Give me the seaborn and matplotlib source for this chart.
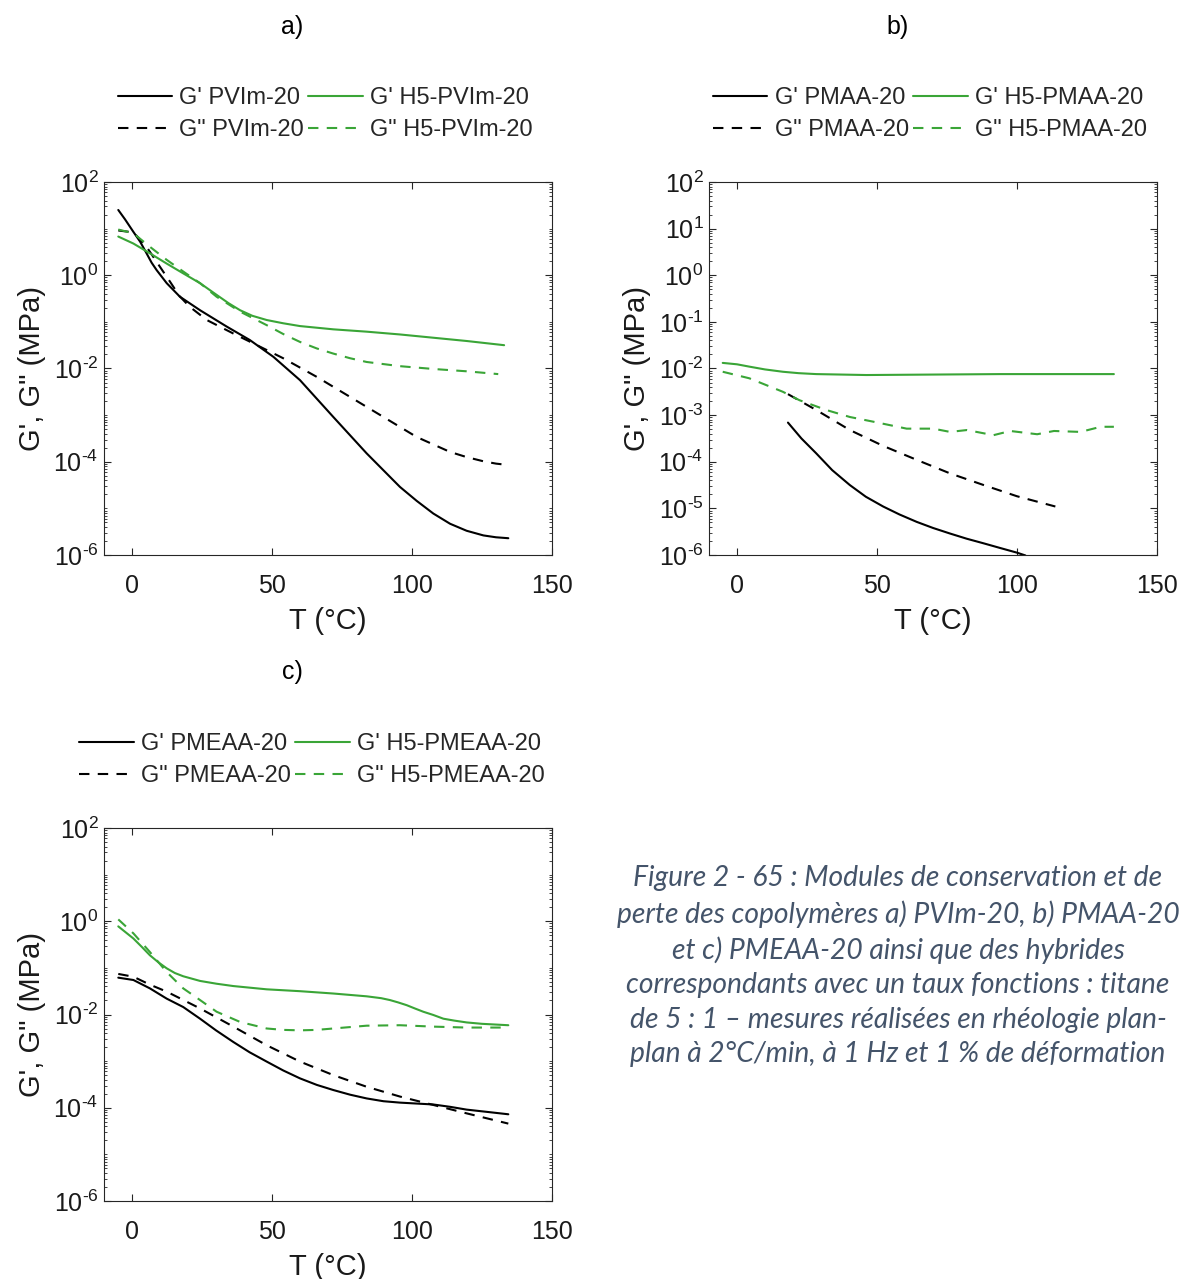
import numpy as np
import pandas as pd
import matplotlib
matplotlib.use("Agg")
import matplotlib.pyplot as plt
import seaborn as sns
from matplotlib.ticker import LogLocator, FixedLocator, NullFormatter

# ---------------- data (log10 of modulus in MPa) ----------------
# Panel a) PVIm-20
a_gp_T = [-4.9, -2.5, 0.5, 2.9, 5.2, 7.0, 8.8, 10.6, 12.4, 17.1, 24.3, 33.8, 42.1, 50.5, 60, 71.9,
          83.8, 95.7, 101.7, 107.6, 113.6, 119.5, 125.5, 130, 134.4]
a_gp_log = [1.4, 1.2, 0.93, 0.72, 0.47, 0.27, 0.11, -0.03, -0.17, -0.46, -0.75, -1.1, -1.39, -1.75,
            -2.25, -3.04, -3.82, -4.54, -4.84, -5.11, -5.33, -5.48, -5.58, -5.62, -5.64]
a_gs_T = [-4.9, 0.5, 5.2, 10, 13.6, 17.0, 20.7, 26.7, 36.2, 43.3, 54, 66, 77.9, 89.8, 101.7, 113.6, 119.5,
          125.5, 130, 134.4]
a_gs_log = [0.96, 0.92, 0.61, 0.18, -0.14, -0.45, -0.68, -0.96, -1.25, -1.46, -1.78, -2.18, -2.61, -3.04,
            -3.47, -3.79, -3.9, -3.99, -4.04, -4.07]
a_hgp_T = [-4.9, 0.5, 6.4, 12.4, 18.3, 24.3, 30.2, 34.5, 38.6, 43.0, 48.1, 54.0, 60, 71.9, 83.8, 95.7, 107.6,
           119.5, 132.9]
a_hgp_log = [0.83, 0.68, 0.47, 0.25, 0.04, -0.17, -0.42, -0.6, -0.75, -0.87, -0.96, -1.03, -1.09, -1.16,
             -1.21, -1.27, -1.34, -1.41, -1.5]
a_hgs_T = [-4.9, 0.5, 6.4, 12.4, 18.3, 24.3, 30.2, 38.6, 48.1, 54.0, 60, 66.0, 71.9, 77.9, 83.8, 95.7, 107.6,
           119.5, 130.8]
a_hgs_log = [0.98, 0.9, 0.61, 0.33, 0.08, -0.17, -0.46, -0.78, -1.07, -1.26, -1.43, -1.57, -1.68, -1.78,
             -1.86, -1.95, -2.01, -2.06, -2.12]

# Panel b) PMAA-20
b_gp_T = [18.2, 23.0, 28.3, 34.0, 40.3, 46.0, 52.2, 58.0, 64.2, 70.0, 76.1, 82.0, 88.1, 94.0, 100, 103]
b_gp_log = [-3.16, -3.5, -3.82, -4.18, -4.5, -4.75, -4.96, -5.13, -5.29, -5.42, -5.54, -5.65, -5.75, -5.85,
            -5.95, -6.01]
b_gs_T = [18.2, 28.3, 40.3, 52.2, 64.2, 76.1, 88.1, 100, 113.7]
b_gs_log = [-2.55, -2.89, -3.32, -3.66, -3.96, -4.25, -4.5, -4.74, -4.96]
b_hgp_T = [-5.1, 0.0, 4.4, 10.0, 16.4, 22.0, 28.3, 46.2, 70.1, 94, 117.9, 134.6]
b_hgp_log = [-1.88, -1.91, -1.96, -2.02, -2.07, -2.1, -2.12, -2.14, -2.13, -2.12, -2.12, -2.12]
b_hgs_T = [-5.1, 4.4, 16.4, 22.3, 31.9, 40.3, 48.6, 60.6, 70.1, 76.1, 82.1, 91.6, 97.6, 107.2, 113.2, 122.7,
           129.9, 134.6]
b_hgs_log = [-2.07, -2.21, -2.5, -2.68, -2.89, -3.04, -3.14, -3.29, -3.29, -3.36, -3.32, -3.43, -3.34, -3.41,
             -3.34, -3.36, -3.25, -3.25]

# Panel c) PMEAA-20
c_gp_T = [-4.9, 0.5, 6.4, 12.4, 18.3, 24.3, 30.0, 36.2, 42.0, 48.1, 54.0, 60, 66.0, 71.9, 77.9, 83.8, 89.8,
          95.7, 101.7, 107.6, 113.6, 119.5, 127.0, 134.4]
c_gp_log = [-1.21, -1.26, -1.44, -1.66, -1.84, -2.09, -2.34, -2.59, -2.81, -3.01, -3.2, -3.37, -3.51, -3.62,
            -3.72, -3.8, -3.86, -3.89, -3.91, -3.93, -3.98, -4.04, -4.09, -4.14]
c_gs_T = [-4.9, 0.5, 6.4, 12.4, 24.3, 36.2, 48.1, 60, 71.9, 83.8, 95.7, 107.6, 119.5, 134.4]
c_gs_log = [-1.13, -1.19, -1.36, -1.51, -1.87, -2.26, -2.66, -3.01, -3.3, -3.55, -3.76, -3.94, -4.12, -4.34]
c_hgp_T = [-4.9, 0.5, 3.5, 6.4, 9.4, 12.4, 15.3, 18.3, 24.3, 30.2, 36.2, 48.1, 60, 71.9, 83.8, 89.0, 92.1,
           95.0, 98.1, 101.0, 104, 107.6, 111.2, 115.0, 119.5, 125.0, 134.4]
c_hgp_log = [-0.11, -0.37, -0.55, -0.73, -0.88, -1.01, -1.11, -1.18, -1.28, -1.34, -1.39, -1.46, -1.5, -1.55,
             -1.61, -1.65, -1.69, -1.74, -1.8, -1.87, -1.94, -2.01, -2.09, -2.13, -2.17, -2.2, -2.23]
c_hgs_T = [-4.9, 0.5, 6.4, 12.4, 18.3, 24.3, 30.2, 38.6, 48.1, 54.0, 60, 66.0, 71.9, 83.8, 95.7, 107.6, 119.5,
           134.4]
c_hgs_log = [0.04, -0.26, -0.66, -1.09, -1.44, -1.69, -1.94, -2.16, -2.3, -2.33, -2.34, -2.33, -2.3, -2.24,
             -2.23, -2.26, -2.28, -2.28]

labels_a = ["G' PVIm-20", 'G" PVIm-20', "G' H5-PVIm-20", 'G" H5-PVIm-20']
labels_b = ["G' PMAA-20", 'G" PMAA-20', "G' H5-PMAA-20", 'G" H5-PMAA-20']
labels_c = ["G' PMEAA-20", 'G" PMEAA-20', "G' H5-PMEAA-20", 'G" H5-PMEAA-20']
panel_titles = ["a)", "b)", "c)"]
x_ticks = [0, 50, 100, 150]
caption = ("Figure 2 - 65 : Modules de conservation et de\n"
           "perte des copolymères a) PVIm-20, b) PMAA-20\n"
           "et c) PMEAA-20 ainsi que des hybrides\n"
           "correspondants avec un taux fonctions : titane\n"
           "de 5 : 1 – mesures réalisées en rhéologie plan-\n"
           "plan à 2°C/min, à 1 Hz et 1 % de déformation")

# ---------------- style ----------------
sns.set_style("ticks")
plt.rcParams['font.family'] = ['Liberation Sans', 'DejaVu Sans']
plt.rcParams['mathtext.fontset'] = 'custom'
plt.rcParams['mathtext.rm'] = 'Liberation Sans'
plt.rcParams['mathtext.it'] = 'Liberation Sans'
plt.rcParams['mathtext.default'] = 'regular'

AXC = '#262626'
TXT = '#1a1a1a'
BLACK = '#000000'
GREEN = '#3aa537'
LW = 1.5
DASH = (0, (5, 4))

W, H = 1181, 1279
fig = plt.figure(figsize=(W / 100, H / 100), dpi=100)


def px_axes(left, top, right, bottom):
    return fig.add_axes([left / W, 1 - bottom / H, (right - left) / W, (bottom - top) / H])


def exp_label(e):
    if e < 0:
        return r'$10^{\text{-}%d}$' % (-e)
    return r'$10^{%d}$' % e


def draw_panel(ax, series, labels, every_decade, leg_center_x):
    styles = [(BLACK, '-'), (BLACK, DASH), (GREEN, '-'), (GREEN, DASH)]
    for (T, lg), lab, (col, ls) in zip(series, labels, styles):
        df = pd.DataFrame({"T": T, "G": 10 ** np.array(lg)})
        sns.lineplot(data=df, x="T", y="G", ax=ax, color=col, linestyle=ls,
                     linewidth=LW, label=lab, estimator=None, sort=False)
    ax.set_yscale('log')
    ax.set_xlim(-10, 150)
    ax.set_ylim(1e-6, 1e2)
    ax.set_xticks(x_ticks)
    ax.set_xticklabels([str(t) for t in x_ticks])
    step = 1 if every_decade else 2
    exps = list(range(-6, 3, step))
    ax.yaxis.set_major_locator(FixedLocator([10.0 ** e for e in exps]))
    ax.set_yticklabels([exp_label(e) for e in exps])
    ax.yaxis.set_minor_locator(LogLocator(base=10, subs=np.arange(1, 10), numticks=100))
    ax.yaxis.set_minor_formatter(NullFormatter())
    for s in ax.spines.values():
        s.set_visible(True)
        s.set_color(AXC)
        s.set_linewidth(0.8)
    ax.tick_params(axis='both', which='both', direction='in', top=True, right=True,
                   colors=AXC, labelcolor=TXT)
    ax.tick_params(axis='both', which='major', length=5, width=0.8, labelsize=18)
    ax.tick_params(axis='y', which='minor', length=2.5, width=0.6)
    ax.tick_params(axis='x', which='major', pad=14)
    ax.tick_params(axis='y', which='major', pad=4)
    ax.set_xlabel('T (°C)', fontsize=21, color=TXT)
    ax.set_ylabel('G\', G" (MPa)', fontsize=21, color=TXT)
    ax.xaxis.set_label_coords(0.5, -0.14)
    ax.yaxis.set_label_coords(-0.13, 0.5)
    h, l = ax.get_legend_handles_labels()
    bb = ax.get_position()
    ax.legend(h, l, ncol=2, frameon=False, fontsize=17, loc='lower center',
              bbox_to_anchor=((leg_center_x / W - bb.x0) / bb.width, 1.065),
              handlelength=2.3, handletextpad=0.3, columnspacing=0.2,
              labelspacing=0.42, borderpad=0.2)


ax_a = px_axes(104, 182, 552, 555)
ax_b = px_axes(709, 182, 1157, 555)
ax_c = px_axes(104, 828, 552, 1201)

draw_panel(ax_a, [(a_gp_T, a_gp_log), (a_gs_T, a_gs_log), (a_hgp_T, a_hgp_log), (a_hgs_T, a_hgs_log)],
           labels_a, False, 325)
draw_panel(ax_b, [(b_gp_T, b_gp_log), (b_gs_T, b_gs_log), (b_hgp_T, b_hgp_log), (b_hgs_T, b_hgs_log)],
           labels_b, True, 930)
draw_panel(ax_c, [(c_gp_T, c_gp_log), (c_gs_T, c_gs_log), (c_hgp_T, c_hgp_log), (c_hgs_T, c_hgs_log)],
           labels_c, False, 312)

for t, (x, y) in zip(panel_titles, [(292, 27), (898, 27), (292, 672)]):
    fig.text(x / W, 1 - y / H, t, fontsize=18, ha='center', va='center', color='#000000')

fig.text(898 / W, 1 - 966 / H, caption, fontsize=20.3, family=['Lato', 'DejaVu Sans'],
         style='italic', color='#44546A', ha='center', va='center', linespacing=1.39)

fig.savefig('out.png', dpi=100, facecolor='white')
